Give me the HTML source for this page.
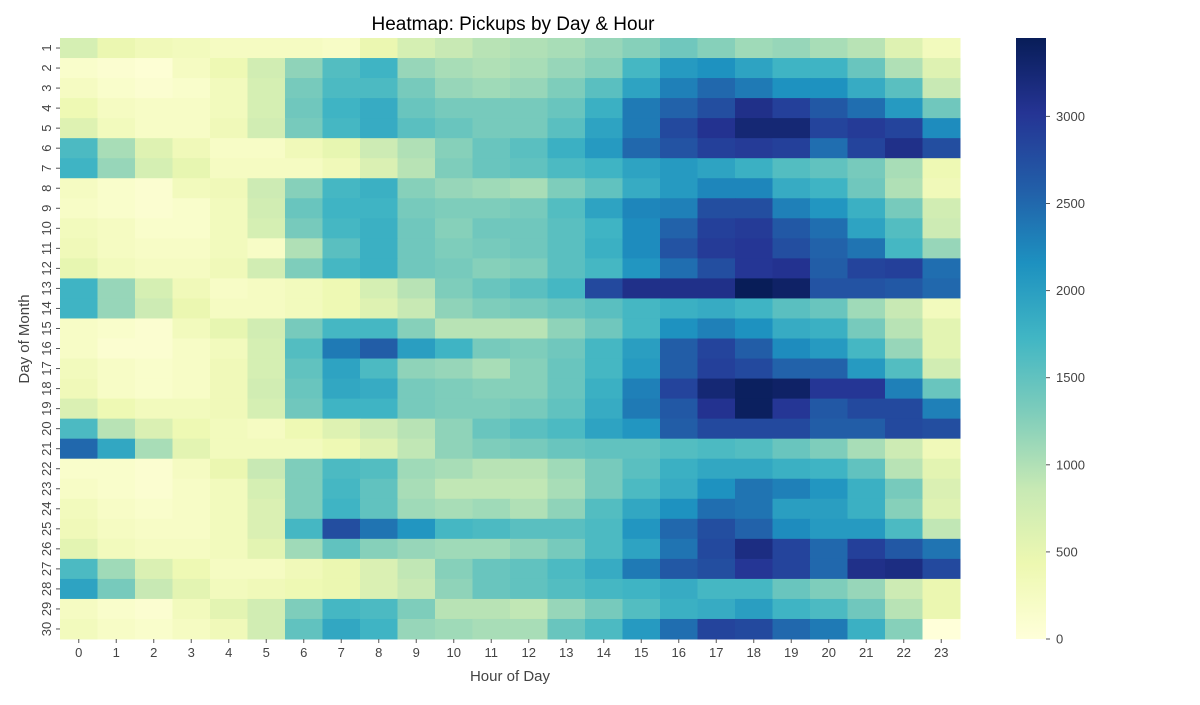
<!DOCTYPE html>
<html><head><meta charset="utf-8">
<style>
html,body{margin:0;padding:0;background:#fff;}
svg text{font-family:"Liberation Sans","DejaVu Sans",sans-serif;}
</style></head>
<body>
<svg id="chart" width="1200" height="700" viewBox="0 0 1200 700" xmlns="http://www.w3.org/2000/svg">
<text x="513" y="30" text-anchor="middle" font-size="19" fill="#000">Heatmap: Pickups by Day &amp; Hour</text>
<g id="cells"></g>
<g id="xaxis"></g>
<g id="yaxis"></g>
<text x="510" y="681" text-anchor="middle" font-size="15" fill="#444">Hour of Day</text>
<text transform="translate(29,339) rotate(-90)" text-anchor="middle" font-size="15" fill="#444">Day of Month</text>
<defs><linearGradient id="cbg" x1="0" y1="1" x2="0" y2="0"></linearGradient></defs>
<rect x="1016" y="38" width="30" height="601" fill="url(#cbg)"/>
<g id="cbticks"></g>
</svg>
<script>
const hours = [0,1,2,3,4,5,6,7,8,9,10,11,12,13,14,15,16,17,18,19,20,21,22,23];
const days = [1,2,3,4,5,6,7,8,9,10,11,12,13,14,15,16,17,18,19,20,21,22,23,24,25,26,27,28,29,30];
const colorbarTicks = [0,500,1000,1500,2000,2500,3000];
const vmax = 3450;
const pickups = [
[700,450,350,300,250,250,250,200,450,700,850,950,1000,1050,1150,1250,1400,1250,1100,1150,1050,950,600,300],
[150,100,50,250,400,750,1200,1600,1750,1150,1050,1000,1050,1150,1250,1700,2050,2150,1950,1750,1750,1450,1000,600],
[250,150,100,150,300,700,1350,1650,1650,1350,1150,1100,1150,1300,1550,1950,2300,2500,2350,2150,2150,1850,1550,850],
[400,250,200,200,300,700,1400,1750,1850,1450,1350,1350,1350,1450,1800,2350,2550,2750,3100,2900,2650,2450,2050,1400],
[600,300,200,200,350,750,1350,1700,1850,1550,1450,1350,1350,1550,1950,2350,2800,3050,3250,3250,2850,2950,2850,2200],
[1650,1050,600,350,200,200,350,500,800,1000,1250,1450,1550,1800,2050,2500,2700,2900,2950,2900,2450,2850,3100,2750],
[1750,1150,700,500,250,250,250,350,650,950,1300,1450,1500,1650,1750,1950,2050,1950,1800,1600,1500,1350,1050,400],
[250,150,100,300,350,800,1250,1700,1800,1250,1150,1100,1050,1300,1500,1850,2050,2250,2250,1850,1750,1400,1000,350],
[200,150,100,150,300,750,1450,1750,1750,1350,1300,1300,1350,1600,1950,2250,2300,2750,2750,2300,2100,1800,1350,750],
[300,250,150,150,300,700,1350,1700,1800,1400,1250,1400,1400,1550,1750,2200,2550,2900,2950,2650,2450,1950,1600,800],
[350,250,200,200,300,200,1000,1550,1800,1400,1300,1350,1400,1550,1800,2200,2700,2950,3000,2750,2550,2400,1700,1150],
[500,300,250,250,350,750,1300,1700,1800,1400,1350,1250,1300,1550,1700,2100,2450,2750,3000,3050,2600,2850,2900,2450],
[1750,1150,700,350,200,250,300,400,700,950,1300,1450,1550,1700,2800,3100,3100,3100,3450,3350,2700,2700,2650,2500],
[1750,1150,800,450,250,250,300,400,600,850,1200,1300,1350,1450,1550,1700,1800,1850,1750,1550,1450,1100,850,300],
[200,150,100,300,500,750,1350,1700,1700,1250,950,950,950,1200,1400,1700,2150,2300,2150,1850,1800,1350,950,550],
[200,100,100,200,300,700,1600,2350,2600,2000,1750,1350,1300,1400,1700,2000,2600,2850,2600,2200,2050,1700,1150,550],
[300,200,150,200,350,700,1500,1950,1650,1200,1150,1050,1250,1450,1700,2050,2600,2900,2800,2550,2550,2050,1600,750],
[350,200,150,200,350,750,1450,1900,1850,1350,1300,1250,1250,1450,1800,2300,2850,3250,3400,3350,3000,3000,2300,1450],
[650,400,300,300,350,700,1400,1750,1750,1350,1300,1300,1350,1500,1850,2350,2650,3050,3400,3000,2650,2800,2800,2300],
[1650,950,650,400,300,250,400,600,800,950,1200,1450,1550,1650,1950,2100,2600,2800,2800,2800,2600,2600,2800,2750],
[2500,1900,1050,550,300,300,300,400,600,900,1200,1300,1350,1450,1500,1500,1600,1650,1600,1450,1300,1050,800,350],
[150,150,100,250,450,850,1300,1650,1600,1100,1050,950,950,1100,1350,1550,1800,1900,1900,1800,1750,1500,950,550],
[200,150,100,200,300,700,1300,1700,1500,1050,900,900,900,1050,1350,1650,1850,2150,2400,2300,2100,1800,1350,650],
[300,200,150,200,300,650,1300,1750,1500,1100,1050,1100,1000,1200,1600,1900,2150,2450,2400,2000,2000,1800,1250,600],
[350,250,200,200,300,650,1700,2750,2400,2100,1700,1650,1550,1550,1650,2100,2500,2750,2550,2200,2050,2050,1650,900],
[550,300,250,250,300,550,1100,1500,1250,1150,1100,1100,1200,1350,1650,1950,2400,2800,3150,2850,2500,2900,2650,2400],
[1650,1100,650,400,250,250,350,450,650,900,1250,1450,1500,1650,1850,2350,2650,2750,3000,2850,2500,3100,3150,2800],
[1950,1350,850,550,300,350,400,450,650,850,1200,1450,1500,1600,1700,1750,1850,1700,1700,1450,1300,1150,800,450],
[250,150,100,300,550,750,1300,1700,1650,1300,950,950,900,1150,1350,1600,1800,1850,2000,1750,1650,1400,950,450],
[300,200,150,250,350,750,1500,1900,1750,1150,1100,1050,1050,1450,1650,2050,2450,2850,2800,2500,2350,1800,1250,0]
];

const NS = "http://www.w3.org/2000/svg";
const PL = 60, PR = 960, PT = 38, PB = 639;
const stops = ["#ffffd9","#edf8b1","#c7e9b4","#7fcdbb","#41b6c4","#1d91c0","#225ea8","#253494","#081d58"];
function hex(c){return [1,3,5].map(i=>parseInt(c.substr(i,2),16));}
function color(v){
  let t = Math.max(0, Math.min(1, v / vmax)) * (stops.length - 1);
  let i = Math.min(Math.floor(t), stops.length - 2), f = t - i;
  const a = hex(stops[i]), b = hex(stops[i+1]);
  return "rgb(" + a.map((x,k)=>Math.round(x + (b[k]-x)*f)).join(",") + ")";
}
const cw = (PR - PL) / hours.length, ch = (PB - PT) / days.length;
function xPos(i){return PL + i * cw;}
function yPos(j){return PT + j * ch;}
function yVal(v){return PB - (v / vmax) * (PB - PT);}

const cells = document.getElementById("cells");
days.forEach((d, j) => {
  hours.forEach((h, i) => {
    const r = document.createElementNS(NS, "rect");
    r.setAttribute("x", xPos(i)); r.setAttribute("y", yPos(j));
    r.setAttribute("width", cw + 0.5); r.setAttribute("height", ch + 0.5);
    r.setAttribute("fill", color(pickups[j][i]));
    
    
    cells.appendChild(r);
  });
});

const xa = document.getElementById("xaxis");
hours.forEach((h, i) => {
  const cx = xPos(i) + cw / 2;
  const l = document.createElementNS(NS, "line");
  l.setAttribute("x1", cx); l.setAttribute("x2", cx); l.setAttribute("y1", PB); l.setAttribute("y2", PB + 4);
  l.setAttribute("stroke", "#555");
  
  
  xa.appendChild(l);
  const t = document.createElementNS(NS, "text");
  t.setAttribute("x", cx); t.setAttribute("y", PB + 18);
  t.setAttribute("text-anchor", "middle"); t.setAttribute("font-size", "13"); t.setAttribute("fill", "#444");
  t.textContent = h;
  
  
  xa.appendChild(t);
});
const ya = document.getElementById("yaxis");
days.forEach((d, j) => {
  const cy = yPos(j) + ch / 2;
  const l = document.createElementNS(NS, "line");
  l.setAttribute("x1", PL - 4); l.setAttribute("x2", PL); l.setAttribute("y1", cy); l.setAttribute("y2", cy);
  l.setAttribute("stroke", "#555");
  
  
  ya.appendChild(l);
  const t = document.createElementNS(NS, "text");
  t.setAttribute("transform", "translate(" + (PL - 9) + "," + cy + ") rotate(-90)");
  t.setAttribute("text-anchor", "middle"); t.setAttribute("font-size", "13"); t.setAttribute("fill", "#444");
  t.textContent = d;
  
  
  ya.appendChild(t);
});

const grad = document.getElementById("cbg");
stops.forEach((c, k) => {
  const s = document.createElementNS(NS, "stop");
  s.setAttribute("offset", (k / (stops.length - 1)));
  s.setAttribute("stop-color", c);
  grad.appendChild(s);
});
const cb = document.getElementById("cbticks");
colorbarTicks.forEach(v => {
  const y = yVal(v);
  const l = document.createElementNS(NS, "line");
  l.setAttribute("x1", 1046); l.setAttribute("x2", 1050); l.setAttribute("y1", y); l.setAttribute("y2", y);
  l.setAttribute("stroke", "#555");
  
  
  cb.appendChild(l);
  const t = document.createElementNS(NS, "text");
  t.setAttribute("x", 1056); t.setAttribute("y", y + 4.5);
  t.setAttribute("font-size", "13"); t.setAttribute("fill", "#444");
  t.textContent = v;
  
  
  cb.appendChild(t);
});
</script>
</body></html>
